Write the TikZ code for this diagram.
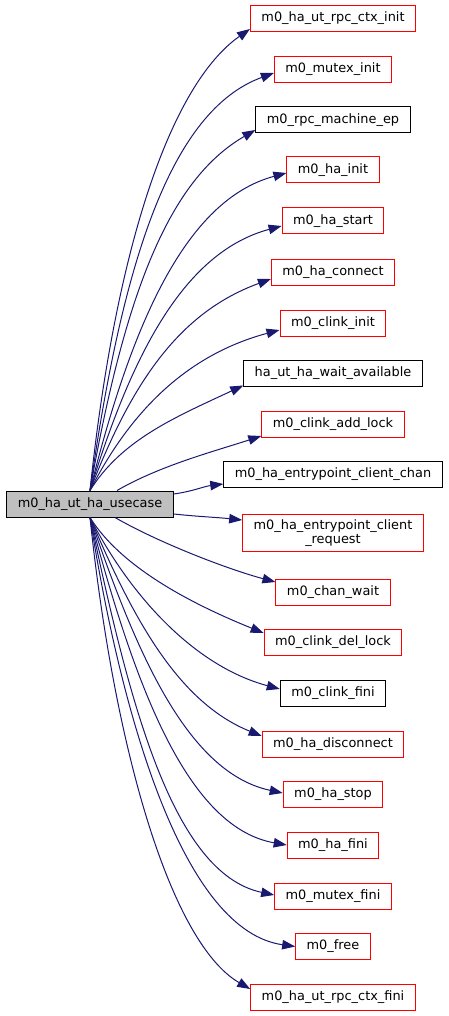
\documentclass[tikz,border=0pt]{standalone}
\usepackage{fontspec}
\setmainfont{DejaVu Sans}
\usepackage{tikz}
\usetikzlibrary{arrows.meta}
\definecolor{callblue}{HTML}{191970}
\definecolor{linkred}{HTML}{FF0000}
\definecolor{mainfill}{HTML}{BFBFBF}
\tikzset{
  % --- call graph boxes ---
  fn/.style={draw=black, line width=1pt, fill=white, align=center,
             inner xsep=11pt, inner ysep=5pt, minimum height=26pt,
             font=\fontsize{12.9}{14.5}\selectfont},
  fnlink/.style={fn, draw=linkred},
  fnmain/.style={fn, fill=mainfill},
  % --- calls ---
  call/.style={draw=callblue, line width=1pt,
               -{Triangle[length=13pt,width=9.5pt,fill=callblue]}},
}
\begin{document}
\begin{tikzpicture}[x=1pt,y=1pt]
  \useasboundingbox (0,0) rectangle (449,-1016);
  % caller
  \node[fnmain] (usecase) at (90,-504) {m0\_ha\_ut\_ha\_usecase};
  % callees (one column)
  \foreach \n/\y/\s/\t in {rpcinit/18.5/fnlink/m0\_ha\_ut\_rpc\_ctx\_init,
      mutexinit/69.5/fnlink/m0\_mutex\_init, machineep/120/fn/m0\_rpc\_machine\_ep,
      hainit/170/fnlink/m0\_ha\_init, hastart/221/fnlink/m0\_ha\_start,
      haconnect/272/fnlink/m0\_ha\_connect, clinkinit/323/fnlink/m0\_clink\_init,
      waitavail/373/fn/ha\_ut\_ha\_wait\_available, addlock/424/fnlink/m0\_clink\_add\_lock,
      epchan/474.5/fn/m0\_ha\_entrypoint\_client\_chan,
      epreq/533/fnlink/{m0\_ha\_entrypoint\_client\\\_request},
      chanwait/592/fnlink/m0\_chan\_wait, dellock/642/fnlink/m0\_clink\_del\_lock,
      clinkfini/693.5/fn/m0\_clink\_fini, hadisc/744/fnlink/m0\_ha\_disconnect,
      hastop/794.5/fnlink/m0\_ha\_stop, hafini/845/fnlink/m0\_ha\_fini,
      mutexfini/896/fnlink/m0\_mutex\_fini, free/946.5/fnlink/m0\_free,
      rpcfini/997.5/fnlink/m0\_ha\_ut\_rpc\_ctx\_fini} {
    \node[\s] (\n) at (333,-\y) {\t};
  }
  % upper fan
  \foreach \t/\e/\o/\od/\i/\id in {rpcinit/-10.5/84/250/215/95,
      mutexinit/-3.5/82/230/200/110, machineep/-10/80/200/210/100,
      hainit/-3/76/170/195/105, hastart/-5/73/145/195/100,
      haconnect/-7/69/120/200/95, clinkinit/-7/63/90/195/95,
      waitavail/-12.5/58/60/205/75} {
    \draw[call] (usecase.north) to[out=\o,in=\i,out distance=\od,in distance=\id]
      ([yshift=\e]\t.west);
  }
  % middle
  \draw[call] ([xshift=27]usecase.north) to[out=30,in=198,out distance=50,in distance=50]
    ([yshift=-12]addlock.west);
  \draw[call] ([yshift=10]usecase.east) to[out=8,in=187] ([yshift=-9.5]epchan.west);
  \draw[call] ([yshift=-10]usecase.east) to[out=-6,in=174] ([yshift=13]epreq.west);
  \draw[call] ([xshift=25]usecase.south) to[out=-30,in=165,out distance=50,in distance=50]
    ([yshift=10]chanwait.west);
  % lower fan
  \foreach \t/\e/\o/\od/\i/\id in {dellock/9/-58/60/158/75,
      clinkfini/4.5/-63/85/165/90, hadisc/8/-67/110/158/90,
      hastop/1.5/-71/135/168/100, hafini/0/-75/160/170/105,
      mutexfini/1/-78/185/168/105, free/0/-81/215/172/110,
      rpcfini/8.5/-84/240/150/90} {
    \draw[call] (usecase.south) to[out=\o,in=\i,out distance=\od,in distance=\id]
      ([yshift=\e]\t.west);
  }
\end{tikzpicture}
\end{document}
